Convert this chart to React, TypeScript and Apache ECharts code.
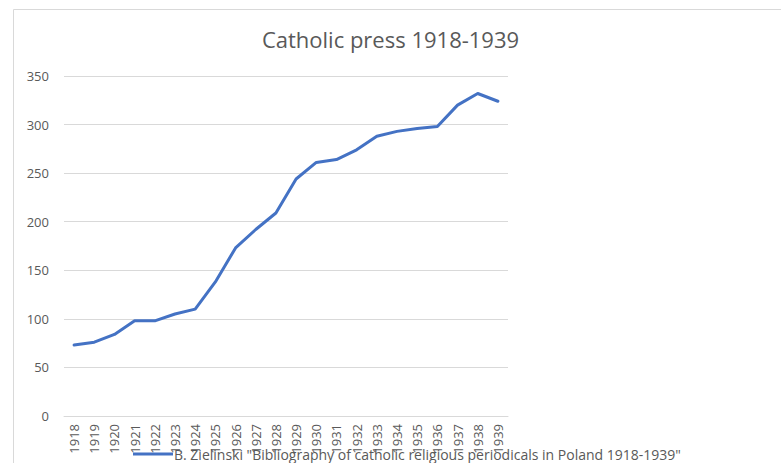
import React, { useEffect, useRef } from "react";
import * as echarts from "echarts";

const years = ["1918","1919","1920","1921","1922","1923","1924","1925","1926","1927","1928","1929","1930","1931","1932","1933","1934","1935","1936","1937","1938","1939"];
const periodicals = [73, 76, 84, 98, 98, 105, 110, 138, 173, 192, 209, 244, 261, 264, 274, 288, 293, 296, 298, 320, 332, 324];
const seriesName = 'B. Zielinski "Bibliography of catholic religious periodicals in Poland 1918-1939"';
const titleText = "Catholic press 1918-1939";

export default function App() {
  const ref = useRef<HTMLDivElement>(null);
  useEffect(() => {
    if (!ref.current) return;
    const chart = echarts.init(ref.current, null, { renderer: "svg" });
    const font = "'Open Sans', sans-serif";
    chart.setOption({
      animation: false,
      backgroundColor: "#ffffff",
      title: {
        text: titleText,
        left: "center",
        top: 23,
        textStyle: { fontFamily: font, fontSize: 22, fontWeight: "normal", color: "#595959" },
      },
      graphic: [
        {
          type: "rect",
          shape: { x: 13.5, y: 9.5, width: 800, height: 500 },
          style: { fill: "none", stroke: "#d9d9d9", lineWidth: 1 },
          silent: true,
        },
      ],
      grid: { left: 64, right: 273, top: 76, bottom: 47, containLabel: false },
      legend: {
        left: 128,
        top: 442,
        icon: "rect",
        itemWidth: 40,
        itemHeight: 3,
        itemGap: 0,
        textStyle: { fontFamily: font, fontSize: 14, color: "#595959", padding: [0, 0, 0, -4] },
        data: [seriesName],
      },
      xAxis: {
        type: "category",
        data: years,
        boundaryGap: true,
        axisLine: { show: true, lineStyle: { color: "#d9d9d9" } },
        axisTick: { show: false },
        axisLabel: { rotate: 90, interval: 0, fontFamily: font, fontSize: 13, color: "#595959", margin: 8 },
      },
      yAxis: {
        type: "value",
        min: 0,
        max: 350,
        interval: 50,
        axisLine: { show: false },
        axisTick: { show: false },
        axisLabel: { fontFamily: font, fontSize: 13, color: "#595959", margin: 15 },
        splitLine: { lineStyle: { color: "#d9d9d9", width: 1 } },
      },
      series: [
        {
          name: seriesName,
          type: "line",
          data: periodicals,
          showSymbol: false,
          symbol: "none",
          lineStyle: { color: "#4472C4", width: 3, cap: "round", join: "round" },
          itemStyle: { color: "#4472C4" },
        },
      ],
    });
    return () => chart.dispose();
  }, []);
  return <div ref={ref} style={{ position: "fixed", left: 0, top: 0, width: 781, height: 463 }} />;
}
